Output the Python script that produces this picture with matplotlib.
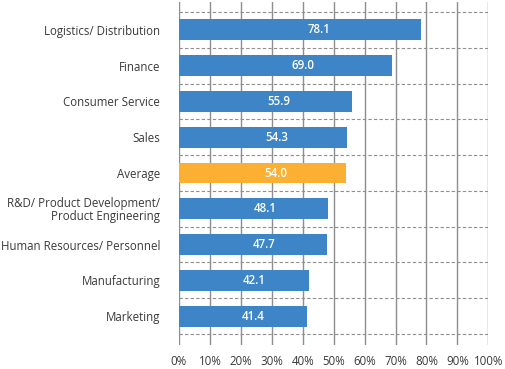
import numpy as np
import matplotlib
matplotlib.use("Agg")
import matplotlib.pyplot as plt

plt.rcParams['font.family'] = ['Open Sans', 'DejaVu Sans']

categories = ["Logistics/ Distribution", "Finance", "Consumer Service", "Sales",
              "Average", "R&D/ Product Development/\nProduct Engineering",
              "Human Resources/ Personnel", "Manufacturing", "Marketing"]
values = [78.1, 69.0, 55.9, 54.3, 54.0, 48.1, 47.7, 42.1, 41.4]
highlight = "Average"
xticks = list(range(0, 101, 10))
xticklabels = [f"{t}%" for t in xticks]

blue = "#3d85c6"
orange = "#fbb034"
grid_col = "#8e8e8e"
text_col = "#3a3a3a"

fig = plt.figure(figsize=(5.06, 3.69), dpi=100)
ax = fig.add_axes([179 / 506, 1 - 345 / 369, (488.3 - 179) / 506, 343 / 369])

y = np.arange(len(categories))
colors = [orange if c == highlight else blue for c in categories]
ax.barh(y, values, height=0.58, color=colors, zorder=3)

# value labels inside bars
for yi, v in zip(y, values):
    ax.text(v * 0.58, yi, f"{v:.1f}", color="white", fontsize=8.3,
            fontweight=600, ha="center", va="center", zorder=4)

# dashed separators between categories
for b in np.arange(-0.5, len(categories), 1.0):
    ax.axhline(b, color=grid_col, lw=0.8, ls=(0, (3, 2)), zorder=1)

ax.set_xlim(0, 100)
ax.set_ylim(len(categories) - 0.5 + 11 / 36, -0.5 - 10 / 36)
ax.set_xticks(xticks)
ax.set_xticklabels(xticklabels)
ax.set_yticks(y)
ax.set_yticklabels(categories, linespacing=1.0)
ax.xaxis.grid(True, color=grid_col, lw=1.0, zorder=0)
ax.set_axisbelow(True)
ax.tick_params(axis='x', length=0, pad=7.5, labelsize=8.3, labelcolor=text_col)
ax.tick_params(axis='y', length=0, pad=13.5, labelsize=8.3, labelcolor=text_col)
for s in ax.spines.values():
    s.set_visible(False)

fig.savefig("out.png", dpi=100)
